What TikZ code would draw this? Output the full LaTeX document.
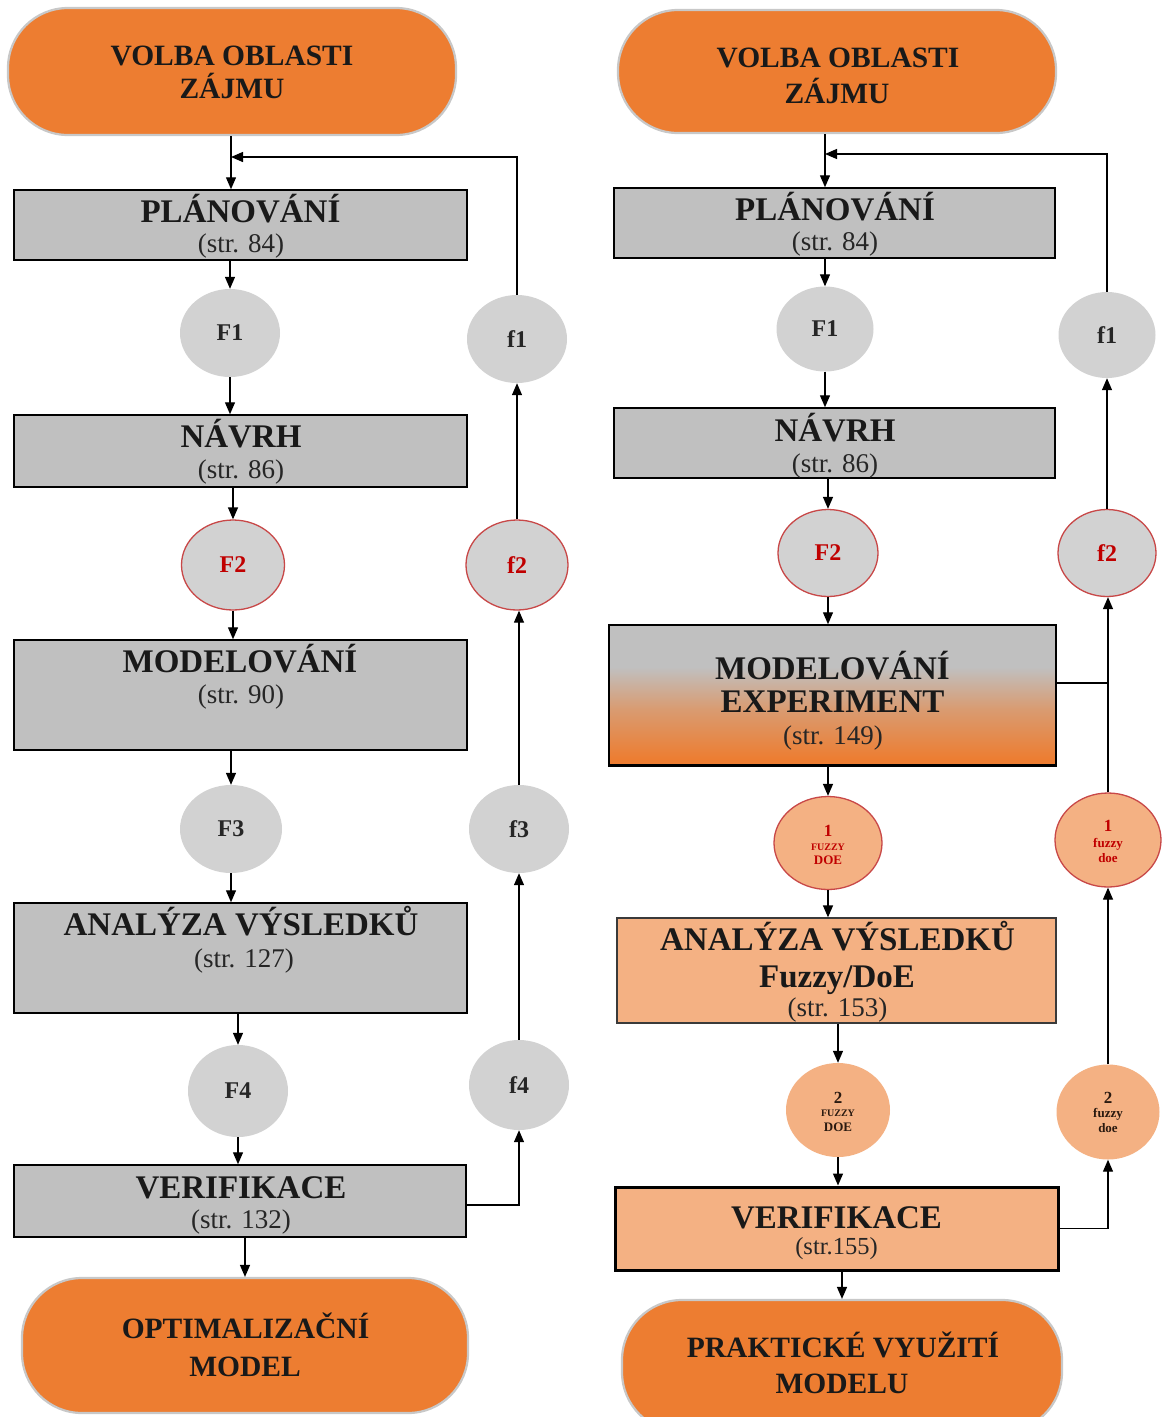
\documentclass[tikz,border=0pt]{standalone}
\usepackage{fontspec}
\setmainfont{Liberation Serif}
\usetikzlibrary{arrows.meta,shapes.geometric}

\definecolor{termorange}{HTML}{ED7D31}
\definecolor{termline}{HTML}{C8C8C8}
\definecolor{boxgray}{HTML}{C0C0C0}
\definecolor{circgray}{HTML}{D2D2D2}
\definecolor{redline}{HTML}{C84848}
\definecolor{redtext}{HTML}{C00000}
\definecolor{salmon}{HTML}{F4B183}
\definecolor{darktext}{HTML}{2A1A10}
\definecolor{anaborder}{HTML}{3A3A3A}

% gray at the top fading into orange at the bottom (path spans 25bp..75bp)
\pgfdeclareverticalshading{grayorange}{100bp}{%
  color(0bp)=(termorange); color(27bp)=(termorange);
  color(45bp)=(termorange!55!boxgray); color(60bp)=(boxgray);
  color(100bp)=(boxgray)}

\begin{document}
\begin{tikzpicture}[x=1pt,y=-1pt,
  terminal/.style={rectangle, draw=termline, line width=2.2pt, fill=termorange,
    rounded corners=60pt, inner sep=0pt},
  graybox/.style={rectangle, draw=black, line width=1.5pt, fill=boxgray, inner sep=0pt},
  gcirc/.style={ellipse, fill=circgray, inner sep=0pt,
    font=\fontsize{24}{26}\selectfont\bfseries, text=black!85},
  rcirc/.style={gcirc, draw=redline, line width=1.3pt, text=redtext},
  scirc/.style={ellipse, fill=salmon, inner sep=0pt},
  srcirc/.style={scirc, draw=redline, line width=1.3pt},
  fzdig/.style={anchor=base, inner sep=0pt, font=\fontsize{17}{17}\selectfont\bfseries},
  fzcap/.style={anchor=base, inner sep=0pt, font=\fontsize{10}{10}\selectfont\bfseries},
  fzcapb/.style={anchor=base, inner sep=0pt, font=\fontsize{13}{13}\selectfont\bfseries},
  fzlow/.style={anchor=base, inner sep=0pt, font=\fontsize{13}{13}\selectfont\bfseries},
  ttl/.style={anchor=base, inner sep=0pt, font=\fontsize{33}{38}\selectfont\bfseries, text=black!90},
  pg/.style={anchor=base, inner sep=0pt, font=\fontsize{27}{30}\selectfont, text=black!85},
  trm/.style={anchor=base, inner sep=0pt, font=\fontsize{29.5}{34}\selectfont\bfseries, text=black!90},
  arr/.style={line width=1.3pt, -{Triangle[length=12pt,width=10pt]}},
  ln/.style={line width=1.3pt}]

\clip (0,0) rectangle (1165,1417);
\fill[white] (0,0) rectangle (1165,1417);

% ---------------- left flow ----------------
\node[terminal, minimum width=448, minimum height=127] (volL) at (232,71.5) {};
\node[trm] (volLa) at (232,65) {VOLBA OBLASTI};
\node[trm] (volLb) at (232,98) {ZÁJMU};

\node[graybox, minimum width=453, minimum height=70] (plL) at (240.5,225) {};
\node[ttl] (plLa) at (240.5,222) {PLÁNOVÁNÍ};
\node[pg] (plLb) at (241,252) {(str. 84)};

\node[gcirc, minimum width=100, minimum height=88] (F1L) at (230,333) {F1};

\node[graybox, minimum width=453, minimum height=72] (navL) at (240.5,451) {};
\node[ttl] (navLa) at (241,447) {NÁVRH};
\node[pg] (navLb) at (241,478) {(str. 86)};

\node[rcirc, minimum width=103, minimum height=90] (F2L) at (233,565) {F2};

\node[graybox, minimum width=453, minimum height=110] (modL) at (240.5,695) {};
\node[ttl] (modLa) at (240,672) {MODELOVÁNÍ};
\node[pg] (modLb) at (241,703) {(str. 90)};

\node[gcirc, minimum width=102, minimum height=88] (F3L) at (231,829) {F3};

\node[graybox, minimum width=453, minimum height=110] (anaL) at (240.5,958) {};
\node[ttl] (anaLa) at (241,935) {ANALÝZA VÝSLEDKŮ};
\node[pg] (anaLb) at (244,967) {(str. 127)};

\node[gcirc, minimum width=100, minimum height=92] (F4L) at (238,1091) {F4};

\node[graybox, minimum width=452, minimum height=72] (verL) at (240,1201) {};
\node[ttl] (verLa) at (241,1198) {VERIFIKACE};
\node[pg] (verLb) at (241,1228) {(str. 132)};

\node[terminal, minimum width=446, minimum height=135] (optL) at (245,1345.5) {};
\node[trm] (optLa) at (245.5,1338) {OPTIMALIZAČNÍ};
\node[trm] (optLb) at (245,1376) {MODEL};

% left feedback chain
\node[gcirc, minimum width=100, minimum height=88] (f1L) at (517,339) {f1};
\node[rcirc, minimum width=102, minimum height=90] (f2L) at (517,565) {f2};
\node[gcirc, minimum width=100, minimum height=88] (f3L) at (519,829) {f3};
\node[gcirc, minimum width=100, minimum height=90] (f4L) at (519,1085) {f4};
\coordinate (jL) at (231,157);

\draw[arr] (volL.south -| jL) -- (jL |- plL.north);
\draw[arr] (F1L |- plL.south) -- (F1L);
\draw[arr] (F1L) -- (F1L |- navL.north);
\draw[arr] (F2L |- navL.south) -- (F2L);
\draw[arr] (F2L) -- (F2L |- modL.north);
\draw[arr] (F3L |- modL.south) -- (F3L);
\draw[arr] (F3L) -- (F3L |- anaL.north);
\draw[arr] (F4L |- anaL.south) -- (F4L);
\draw[arr] (F4L) -- (F4L |- verL.north);
\draw[arr] (optL |- verL.south) -- (optL);

\draw[arr] ([yshift=-4pt]verL.east) -| (f4L);
\draw[arr] (f4L) -- (f3L);
\draw[arr] (f3L.north) -- (f3L.north |- f2L.south);
\draw[arr] (f2L) -- (f1L);
\draw[arr] (f1L) |- (jL);

% ---------------- right flow ----------------
\node[terminal, minimum width=438, minimum height=123] (volR) at (837,71.5) {};
\node[trm] (volRa) at (838,67) {VOLBA OBLASTI};
\node[trm] (volRb) at (837,103) {ZÁJMU};

\node[graybox, minimum width=441, minimum height=70] (plR) at (834.5,223) {};
\node[ttl] (plRa) at (835,220) {PLÁNOVÁNÍ};
\node[pg] (plRb) at (835,250) {(str. 84)};

\node[gcirc, minimum width=97, minimum height=85] (F1R) at (825,329) {F1};

\node[graybox, minimum width=441, minimum height=70] (navR) at (834.5,443) {};
\node[ttl] (navRa) at (835,441) {NÁVRH};
\node[pg] (navRb) at (835,472) {(str. 86)};

\node[rcirc, minimum width=100, minimum height=87] (F2R) at (828,553) {F2};

\node[rectangle, shading=grayorange, draw=black, line width=1.5pt, inner sep=0pt,
      minimum width=447, minimum height=140] (mexR) at (832.5,695) {};
\draw[line width=2.5pt] (mexR.south west) -- (mexR.south east);
\node[ttl] (mexRa) at (832.5,679) {MODELOVÁNÍ};
\node[ttl] (mexRb) at (832.5,712) {EXPERIMENT};
\node[pg] (mexRc) at (833,744) {(str. 149)};

\node[srcirc, minimum width=108, minimum height=93] (d1R) at (828,843) {};
\node[fzdig, text=redtext] (d1Ra) at ([yshift=7pt]d1R.center) {1};
\node[fzcap, text=redtext] (d1Rb) at ([yshift=-7pt]d1R.center) {FUZZY};
\node[fzcapb, text=redtext] (d1Rc) at ([yshift=-21pt]d1R.center) {DOE};

\node[rectangle, fill=salmon, draw=anaborder, line width=1.3pt, inner sep=0pt,
      minimum width=439, minimum height=105] (anaR) at (836.5,970.5) {};
\node[ttl] (anaRa) at (837.5,950) {ANALÝZA VÝSLEDKŮ};
\node[ttl] (anaRb) at (837,987) {Fuzzy/DoE};
\node[pg] (anaRc) at (837.5,1016) {(str. 153)};

\node[scirc, minimum width=104, minimum height=94] (d2R) at (838,1110) {};
\node[fzdig, text=darktext] (d2Ra) at ([yshift=7pt]d2R.center) {2};
\node[fzcap, text=darktext] (d2Rb) at ([yshift=-6pt]d2R.center) {FUZZY};
\node[fzcapb, text=darktext] (d2Rc) at ([yshift=-21pt]d2R.center) {DOE};

\node[rectangle, fill=salmon, draw=black, line width=3pt, inner sep=0pt,
      minimum width=443, minimum height=83] (verR) at (836.5,1228.5) {};
\node[ttl] (verRa) at (836.5,1228) {VERIFIKACE};
\node[pg, font=\fontsize{24.5}{28}\selectfont] (verRb) at (836.5,1254) {(str.155)};

\node[terminal, minimum width=440, minimum height=132] (prakR) at (842,1366) {};
\node[trm] (prakRa) at (843,1357) {PRAKTICKÉ VYUŽITÍ};
\node[trm] (prakRb) at (842,1393) {MODELU};

% right feedback chain
\node[gcirc, minimum width=97, minimum height=86] (f1R) at (1107,335) {f1};
\node[rcirc, minimum width=98, minimum height=87] (f2R) at (1107,553) {f2};

\node[srcirc, minimum width=106, minimum height=94] (e1R) at (1108,840) {};
\node[fzdig, text=redtext] (e1Ra) at ([yshift=9pt]e1R.center) {1};
\node[fzlow, text=redtext] (e1Rb) at ([yshift=-7pt]e1R.center) {fuzzy};
\node[fzlow, text=redtext] (e1Rc) at ([yshift=-22pt]e1R.center) {doe};

\node[scirc, minimum width=103, minimum height=95] (e2R) at (1108,1112) {};
\node[fzdig, text=darktext] (e2Ra) at ([yshift=9pt]e2R.center) {2};
\node[fzlow, text=darktext] (e2Rb) at ([yshift=-5pt]e2R.center) {fuzzy};
\node[fzlow, text=darktext] (e2Rc) at ([yshift=-20pt]e2R.center) {doe};
\coordinate (jR) at (825,154);

\draw[arr] (volR.south -| jR) -- (jR |- plR.north);
\draw[arr] (F1R |- plR.south) -- (F1R);
\draw[arr] (F1R) -- (F1R |- navR.north);
\draw[arr] (F2R |- navR.south) -- (F2R);
\draw[arr] (F2R) -- (F2R |- mexR.north);
\draw[arr] (d1R |- mexR.south) -- (d1R);
\draw[arr] (d1R) -- (d1R |- anaR.north);
\draw[arr] (d2R |- anaR.south) -- (d2R);
\draw[arr] (d2R) -- (d2R |- verR.north);
\draw[arr] (prakR |- verR.south) -- (prakR);

\draw[arr] (verR.east) -| (e2R);
\draw[arr] (e2R) -- (e1R);
\draw[arr] (e1R.north) -- (e1R.north |- f2R.south);
\draw[ln] ([yshift=12pt]mexR.east) -- ([yshift=12pt]mexR.east -| e1R);
\draw[arr] (f2R) -- (f1R);
\draw[arr] (f1R) |- (jR);

\end{tikzpicture}
\end{document}
